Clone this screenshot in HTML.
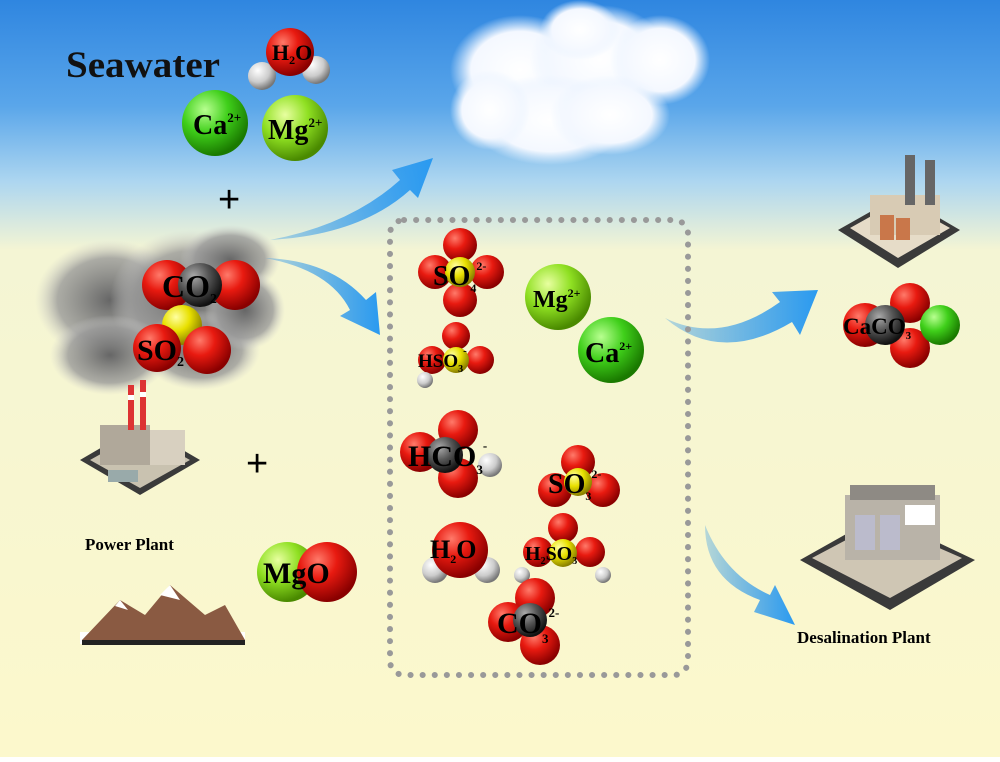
<!DOCTYPE html>
<html><head><meta charset="utf-8"><style>
html,body{margin:0;padding:0}
body{width:1000px;height:757px;overflow:hidden;font-family:"Liberation Serif",serif}
</style></head><body>
<svg width="1000" height="757" viewBox="0 0 1000 757" xmlns="http://www.w3.org/2000/svg" font-family="Liberation Serif, serif" font-weight="bold">
<defs>
<linearGradient id="bg" x1="0" y1="0" x2="0" y2="1">
<stop offset="0" stop-color="#2f86e0"/>
<stop offset="0.14" stop-color="#5aa6ea"/>
<stop offset="0.24" stop-color="#add6f0"/>
<stop offset="0.33" stop-color="#f4f5d4"/>
<stop offset="1" stop-color="#fcf8cc"/>
</linearGradient>
<radialGradient id="red" cx="0.35" cy="0.3" r="0.7"><stop offset="0" stop-color="#ff7a6a"/><stop offset="0.45" stop-color="#e81a10"/><stop offset="1" stop-color="#8a0000"/></radialGradient>
<radialGradient id="grn" cx="0.35" cy="0.3" r="0.7"><stop offset="0" stop-color="#b8ff90"/><stop offset="0.5" stop-color="#3fcf1a"/><stop offset="1" stop-color="#1a7a00"/></radialGradient>
<radialGradient id="lgr" cx="0.35" cy="0.3" r="0.7"><stop offset="0" stop-color="#e8ffa0"/><stop offset="0.5" stop-color="#8fe022"/><stop offset="1" stop-color="#4a8a00"/></radialGradient>
<radialGradient id="gry" cx="0.35" cy="0.3" r="0.7"><stop offset="0" stop-color="#aaa"/><stop offset="0.5" stop-color="#555"/><stop offset="1" stop-color="#111"/></radialGradient>
<radialGradient id="wht" cx="0.35" cy="0.3" r="0.7"><stop offset="0" stop-color="#fff"/><stop offset="0.6" stop-color="#ccc"/><stop offset="1" stop-color="#777"/></radialGradient>
<radialGradient id="yel" cx="0.35" cy="0.3" r="0.7"><stop offset="0" stop-color="#ffffa0"/><stop offset="0.5" stop-color="#e8e000"/><stop offset="1" stop-color="#8a8000"/></radialGradient>
<radialGradient id="smoke" cx="0.5" cy="0.5" r="0.5"><stop offset="0" stop-color="#666"/><stop offset="0.7" stop-color="#999" stop-opacity="0.8"/><stop offset="1" stop-color="#ccc" stop-opacity="0"/></radialGradient>
<radialGradient id="cloud" cx="0.5" cy="0.5" r="0.5"><stop offset="0" stop-color="#fff"/><stop offset="0.7" stop-color="#f4f8ff"/><stop offset="1" stop-color="#e8f2ff" stop-opacity="0"/></radialGradient>
<linearGradient id="arr" x1="0" y1="0" x2="1" y2="0"><stop offset="0" stop-color="#1e8ee8" stop-opacity="0.3"/><stop offset="1" stop-color="#2a9af0"/></linearGradient>
</defs>
<rect width="1000" height="757" fill="url(#bg)"/>

<g fill="url(#cloud)">
<ellipse cx="520" cy="70" rx="70" ry="55"/><ellipse cx="600" cy="60" rx="70" ry="55"/><ellipse cx="660" cy="60" rx="50" ry="45"/>
<ellipse cx="550" cy="120" rx="80" ry="45"/><ellipse cx="490" cy="110" rx="40" ry="40"/><ellipse cx="610" cy="115" rx="60" ry="40"/>
<ellipse cx="580" cy="30" rx="40" ry="30"/>
</g>

<g fill="url(#smoke)">
<ellipse cx="110" cy="300" rx="75" ry="60"/><ellipse cx="190" cy="300" rx="80" ry="70"/><ellipse cx="230" cy="260" rx="50" ry="35"/>
<ellipse cx="110" cy="355" rx="60" ry="40"/><ellipse cx="200" cy="350" rx="60" ry="40"/><ellipse cx="245" cy="310" rx="40" ry="40"/>
</g>

<path d="M270 240 Q350 225 400 180 L392 170 L433 158 L418 198 L410 190 Q360 235 270 240 Z" fill="url(#arr)"/>
<path d="M265 258 Q330 270 350 310 L340 316 L380 335 L376 292 L366 300 Q330 260 265 258 Z" fill="url(#arr)"/>
<path d="M665 318 Q720 345 780 302 L772 292 L818 290 L800 335 L792 322 Q720 365 665 318 Z" fill="url(#arr)"/>
<path d="M705 525 Q705 580 760 600 L754 612 L795 625 L775 585 L770 595 Q725 575 705 525 Z" fill="url(#arr)"/>

<text x="66" y="77" font-size="37" fill="#111" textLength="154" lengthAdjust="spacingAndGlyphs">Seawater</text>
<circle cx="262" cy="76" r="14" fill="url(#wht)"/><circle cx="316" cy="70" r="14" fill="url(#wht)"/>
<circle cx="290" cy="52" r="24" fill="url(#red)"/>
<text x="272" y="60" font-size="22">H<tspan font-size="12" dy="4">2</tspan><tspan dy="-4">O</tspan></text>
<circle cx="215" cy="123" r="33" fill="url(#grn)"/>
<text x="193" y="134" font-size="28">Ca<tspan font-size="13" dy="-12">2+</tspan></text>
<circle cx="295" cy="128" r="33" fill="url(#lgr)"/>
<text x="268" y="139" font-size="28">Mg<tspan font-size="13" dy="-12">2+</tspan></text>
<text x="218" y="212" font-size="38" font-weight="normal" font-family="Liberation Sans, sans-serif">+</text>

<circle cx="167" cy="285" r="25" fill="url(#red)"/><circle cx="235" cy="285" r="25" fill="url(#red)"/>
<circle cx="200" cy="285" r="22" fill="url(#gry)"/>
<text x="162" y="297" font-size="32">CO<tspan font-size="14" dy="6">2</tspan></text>
<circle cx="182" cy="325" r="20" fill="url(#yel)"/>
<circle cx="157" cy="348" r="24" fill="url(#red)"/><circle cx="207" cy="350" r="24" fill="url(#red)"/>
<text x="137" y="360" font-size="30">SO<tspan font-size="14" dy="6">2</tspan></text>

<g>
<polygon points="80,460 140,425 200,460 140,495" fill="#3a3a3a"/>
<polygon points="90,460 140,432 190,460 140,488" fill="#c9c2b0"/>
<rect x="100" y="425" width="50" height="40" fill="#b0a89a"/>
<rect x="150" y="430" width="35" height="35" fill="#d8d0c0"/>
<rect x="128" y="385" width="6" height="45" fill="#d33"/><rect x="140" y="380" width="6" height="50" fill="#d33"/>
<rect x="128" y="395" width="6" height="5" fill="#fff"/><rect x="140" y="392" width="6" height="5" fill="#fff"/>
<rect x="108" y="470" width="30" height="12" fill="#9aa"/>
</g>
<text x="85" y="550" font-size="17">Power Plant</text>
<text x="246" y="476" font-size="38" font-weight="normal" font-family="Liberation Sans, sans-serif">+</text>

<circle cx="287" cy="572" r="30" fill="url(#lgr)"/><circle cx="327" cy="572" r="30" fill="url(#red)"/>
<text x="263" y="583" font-size="30">MgO</text>

<rect x="80" y="632" width="165" height="12" fill="#fff"/>
<polygon points="82,640 120,600 145,615 170,585 205,615 225,605 245,640" fill="#8a5a42"/>
<polygon points="160,595 170,585 180,600 172,598" fill="#fff"/>
<polygon points="115,606 120,600 128,610" fill="#fff"/>
<polygon points="82,640 245,640 245,645 82,645" fill="#222"/>

<rect x="390" y="220" width="298" height="455" rx="14" fill="none" stroke="#999" stroke-width="6" stroke-dasharray="0.1 12" stroke-linecap="round"/>

<circle cx="460" cy="245" r="17" fill="url(#red)"/><circle cx="435" cy="272" r="17" fill="url(#red)"/><circle cx="487" cy="272" r="17" fill="url(#red)"/><circle cx="460" cy="300" r="17" fill="url(#red)"/>
<circle cx="460" cy="272" r="15" fill="url(#yel)"/>
<text x="433" y="285" font-size="28">SO<tspan font-size="12" dy="7">4</tspan><tspan font-size="12" dy="-22">2-</tspan></text>
<circle cx="558" cy="297" r="33" fill="url(#lgr)"/>
<text x="533" y="307" font-size="24">Mg<tspan font-size="12" dy="-10">2+</tspan></text>
<circle cx="611" cy="350" r="33" fill="url(#grn)"/>
<text x="585" y="362" font-size="28">Ca<tspan font-size="12" dy="-12">2+</tspan></text>
<circle cx="456" cy="336" r="14" fill="url(#red)"/><circle cx="432" cy="360" r="14" fill="url(#red)"/><circle cx="480" cy="360" r="14" fill="url(#red)"/>
<circle cx="456" cy="360" r="13" fill="url(#yel)"/><circle cx="425" cy="380" r="8" fill="url(#wht)"/>
<text x="418" y="367" font-size="19">HSO<tspan font-size="10" dy="5">3</tspan><tspan font-size="11" dy="-18">-</tspan></text>
<circle cx="458" cy="430" r="20" fill="url(#red)"/><circle cx="420" cy="452" r="20" fill="url(#red)"/><circle cx="458" cy="478" r="20" fill="url(#red)"/>
<circle cx="445" cy="455" r="18" fill="url(#gry)"/><circle cx="490" cy="465" r="12" fill="url(#wht)"/>
<text x="408" y="466" font-size="30">HCO<tspan font-size="13" dy="8">3</tspan><tspan font-size="13" dy="-24">-</tspan></text>
<circle cx="578" cy="462" r="17" fill="url(#red)"/><circle cx="555" cy="490" r="17" fill="url(#red)"/><circle cx="603" cy="490" r="17" fill="url(#red)"/>
<circle cx="578" cy="482" r="14" fill="url(#yel)"/>
<text x="548" y="493" font-size="28">SO<tspan font-size="12" dy="7">3</tspan><tspan font-size="12" dy="-22">2-</tspan></text>
<circle cx="435" cy="570" r="13" fill="url(#wht)"/><circle cx="487" cy="570" r="13" fill="url(#wht)"/>
<circle cx="460" cy="550" r="28" fill="url(#red)"/>
<text x="430" y="558" font-size="26">H<tspan font-size="12" dy="5">2</tspan><tspan dy="-5">O</tspan></text>
<circle cx="563" cy="528" r="15" fill="url(#red)"/><circle cx="538" cy="552" r="15" fill="url(#red)"/><circle cx="590" cy="552" r="15" fill="url(#red)"/>
<circle cx="563" cy="553" r="14" fill="url(#yel)"/><circle cx="522" cy="575" r="8" fill="url(#wht)"/><circle cx="603" cy="575" r="8" fill="url(#wht)"/>
<text x="525" y="560" font-size="20">H<tspan font-size="10" dy="4">2</tspan><tspan dy="-4">SO</tspan><tspan font-size="10" dy="4">3</tspan></text>
<circle cx="535" cy="598" r="20" fill="url(#red)"/><circle cx="508" cy="622" r="20" fill="url(#red)"/><circle cx="540" cy="645" r="20" fill="url(#red)"/>
<circle cx="530" cy="620" r="17" fill="url(#gry)"/>
<text x="497" y="633" font-size="30">CO<tspan font-size="13" dy="10">3</tspan><tspan font-size="13" dy="-26">2-</tspan></text>

<g>
<polygon points="838,230 900,195 960,230 898,268" fill="#3a3a3a"/>
<polygon points="850,228 900,200 950,228 898,258" fill="#e6dcc8"/>
<rect x="870" y="195" width="70" height="40" fill="#d8cbb4"/>
<rect x="905" y="155" width="10" height="50" fill="#666"/><rect x="925" y="160" width="10" height="45" fill="#666"/>
<rect x="880" y="215" width="14" height="25" fill="#c9774a"/><rect x="896" y="218" width="14" height="22" fill="#c9774a"/>
</g>
<circle cx="910" cy="303" r="20" fill="url(#red)"/><circle cx="910" cy="348" r="20" fill="url(#red)"/><circle cx="865" cy="325" r="22" fill="url(#red)"/>
<circle cx="940" cy="325" r="20" fill="url(#grn)"/>
<circle cx="885" cy="325" r="20" fill="url(#gry)"/>
<text x="843" y="334" font-size="23">CaCO<tspan font-size="11" dy="5">3</tspan></text>

<g>
<polygon points="800,560 880,515 975,560 890,610" fill="#3a3a3a"/>
<polygon points="812,558 880,522 962,558 890,598" fill="#cfc6b4"/>
<rect x="845" y="495" width="95" height="65" fill="#b9b3a8"/>
<rect x="850" y="485" width="85" height="15" fill="#8e8a84"/>
<rect x="855" y="515" width="20" height="35" fill="#bbc"/><rect x="880" y="515" width="20" height="35" fill="#bbc"/>
<rect x="905" y="505" width="30" height="20" fill="#fff"/>
</g>
<text x="797" y="643" font-size="17">Desalination Plant</text>
</svg>
</body></html>
